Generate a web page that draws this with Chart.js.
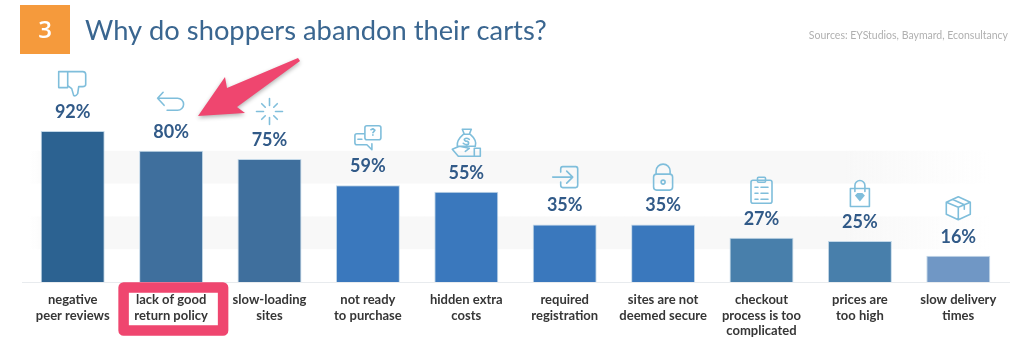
<!DOCTYPE html>
<html><head><meta charset="utf-8">
<script src="https://cdn.jsdelivr.net/npm/chart.js@4"></script>
<style>
html,body{margin:0;padding:0;background:#fff;width:1024px;height:358px;overflow:hidden;font-family:Lato,sans-serif}
#wrap{position:relative;width:1024px;height:358px}
canvas{position:absolute;left:0;top:0}
</style></head><body>
<div id="wrap"><canvas id="c" width="1024" height="358"></canvas></div>
<script>
const categories=[["negative","peer reviews"],["lack of good","return policy"],["slow-loading","sites"],["not ready","to purchase"],["hidden extra","costs"],["required","registration"],["sites are not","deemed secure"],["checkout","process is too","complicated"],["prices are","too high"],["slow delivery","times"]];
const values=[92,80,75,59,55,35,35,27,25,16];
const bands=[[60,80],[20,40]];
const topColors=["#2c6291","#3f6f9d","#3f6f9d","#3a78bd","#3a78bd","#3a78bd","#3a78bd","#487fab","#487fab","#7097c5"];
const bottomColors=["#234f7c","#345c8b","#345c8b","#29629a","#29629a","#2e6aa8","#2e6aa8","#3a6b97","#3a6b97","#6a8fbc"];
const iconNames=["thumb","back","spin","chat","money","login","lock","list","bag","box"];
const iconColor="#7fbedb";

const icons={
 thumb(g){g.rect(-14,-12,9,16);g.moveTo(-5,-12);g.lineTo(10,-12);g.quadraticCurveTo(13,-12,13,-9);g.lineTo(13,1);g.quadraticCurveTo(13,3,10,3);g.lineTo(6,3);g.lineTo(5,10);g.quadraticCurveTo(3,13,1,12);g.lineTo(-1,5);g.lineTo(-5,2);},
 back(g){g.moveTo(-8,-11);g.lineTo(-13.5,-5);g.lineTo(-7,2);g.moveTo(-13.5,-5);g.lineTo(6,-5);g.arc(6.5,1,6,-Math.PI/2,Math.PI/2);g.lineTo(-4,7);},
 spin(g){for(let i=0;i<8;i++){const a=i*Math.PI/4,r0=i%2?6:6,r1=i%2?11:13;g.moveTo(r0*Math.cos(a),r0*Math.sin(a));g.lineTo(r1*Math.cos(a),r1*Math.sin(a));}},
 chat(g){g.moveTo(-3,-4);g.lineTo(-11,-4);g.quadraticCurveTo(-13,-4,-13,-2);g.lineTo(-13,5);g.quadraticCurveTo(-13,7,-11,7);g.lineTo(-1,7);g.lineTo(4,12);g.lineTo(4,6);
  g.moveTo(-3,-10);g.quadraticCurveTo(-3,-12,-1,-12);g.lineTo(11,-12);g.quadraticCurveTo(13,-12,13,-10);g.lineTo(13,0);g.quadraticCurveTo(13,2,11,2);g.lineTo(-1,2);g.quadraticCurveTo(-3,2,-3,0);g.closePath();
  g.moveTo(3,-8);g.lineTo(5,-9);g.lineTo(7,-7.5);g.lineTo(5,-5);g.moveTo(5,-3);g.lineTo(5,-2.5);g.moveTo(-10,1.5);g.lineTo(-6,1.5);},
 money(g){g.moveTo(-4,-15);g.lineTo(5,-15);g.lineTo(3,-10);g.lineTo(-2,-10);g.closePath();g.moveTo(-3,-10);g.quadraticCurveTo(-10,-4,-9,2);g.lineTo(9,2);g.quadraticCurveTo(11,-4,4,-10);
  g.moveTo(-14,5);g.lineTo(-7,2);g.lineTo(3,4);g.lineTo(-1,7);g.moveTo(-14,5);g.lineTo(-8,12);g.lineTo(8,12);g.moveTo(8,4);g.lineTo(14,4);g.lineTo(14,12);g.lineTo(8,12);g.closePath();
  g.moveTo(3,-5);g.quadraticCurveTo(0,-7,-2,-5);g.quadraticCurveTo(-2,-3,1,-3);g.quadraticCurveTo(3,-2,2,0);g.quadraticCurveTo(0,1,-3,-1);},
 login(g){g.moveTo(-4,-5);g.lineTo(-4,-8);g.quadraticCurveTo(-4,-10.5,-2,-10.5);g.lineTo(11,-10.5);g.quadraticCurveTo(13,-10.5,13,-8);g.lineTo(13,8);g.quadraticCurveTo(13,10.5,11,10.5);g.lineTo(-2,10.5);g.quadraticCurveTo(-4,10.5,-4,8);g.lineTo(-4,5);
  g.moveTo(-12,0);g.lineTo(7,0);g.moveTo(2,-6);g.lineTo(8,0);g.lineTo(2,6);},
 lock(g){g.roundRect(-9.5,-3,19,16,3);g.moveTo(-7,-3);g.lineTo(-7,-6);g.arc(0,-6,7,Math.PI,0);g.lineTo(7,-3);g.moveTo(2,5);g.arc(0,5,2,0,Math.PI*2);},
 list(g){g.roundRect(-10.5,-10,21,23,2);g.roundRect(-4,-13,8,5,1);for(const y of [-3,3,9]){g.moveTo(-6.5,y);g.lineTo(-3.5,y);g.moveTo(-0.5,y);g.lineTo(6.5,y);}},
 bag(g){g.rect(-9.5,-5,19,18);g.moveTo(-5,-2);g.lineTo(-5,-8);g.arc(0,-8,5,Math.PI,0);g.lineTo(5,-2);
  g.stroke();g.beginPath();g.moveTo(-5,2);g.lineTo(-2.5,-0.5);g.lineTo(2.5,-0.5);g.lineTo(5,2);g.lineTo(0,8);g.closePath();g.fillStyle=iconColor;g.fill();g.beginPath();},
 box(g){g.moveTo(0,-11.5);g.lineTo(12,-6);g.lineTo(12,6);g.lineTo(0,11.5);g.lineTo(-12,6);g.lineTo(-12,-6);g.closePath();g.moveTo(-12,-6);g.lineTo(0,-1);g.lineTo(12,-6);g.moveTo(0,-1);g.lineTo(0,11.5);g.moveTo(-6,-9);g.lineTo(6,-3.5);g.lineTo(6,1);}
};

const bandPlugin={id:'bands',beforeDatasetsDraw(ch){
 const g=ch.ctx,y=ch.scales.y;g.save();
 const gr=g.createLinearGradient(28,0,990,0);
 gr.addColorStop(0,'rgba(248,248,248,0)');gr.addColorStop(.03,'#f8f8f8');gr.addColorStop(.85,'#f8f8f8');gr.addColorStop(1,'rgba(248,248,248,0)');
 g.fillStyle=gr;
 bands.forEach(b=>g.fillRect(28,y.getPixelForValue(b[1]),962,y.getPixelForValue(b[0])-y.getPixelForValue(b[1])));
 g.strokeStyle='#e8ebee';g.lineWidth=1;g.beginPath();g.moveTo(22,y.getPixelForValue(0)+.5);g.lineTo(1010,y.getPixelForValue(0)+.5);g.stroke();
 g.restore();
}};
const labelPlugin={id:'labels',afterDatasetsDraw(ch){
 const g=ch.ctx,meta=ch.getDatasetMeta(0);g.save();
 g.textAlign='center';g.textBaseline='middle';
 meta.data.forEach((b,i)=>{
  g.font='700 18px Lato';g.fillStyle='#315a88';
  g.fillText(values[i]+'%',b.x,b.y-19);
  g.save();g.translate(b.x,b.y-47.5);g.strokeStyle=iconColor;g.lineWidth=1.6;g.lineJoin='round';g.lineCap='round';
  g.beginPath();icons[iconNames[i]](g);g.stroke();g.restore();
 });
 g.restore();
}};
const frame={id:'frame',afterDraw(ch){
 const g=ch.ctx;g.save();
 g.fillStyle='#f59a3c';g.fillRect(20,5,50,49);
 g.fillStyle='#fff';g.font='600 24px "Open Sans"';g.textAlign='center';g.textBaseline='middle';g.fillText('3',45,31);
 g.fillStyle='#3a6690';g.font='400 27.3px Lato';g.textAlign='left';g.fillText('Why do shoppers abandon their carts?',85,31);
 g.fillStyle='#b0b0b0';g.font='400 10.5px Lato';g.textAlign='right';g.fillText('Sources: EYStudios, Baymard, Econsultancy',1008,36);
 const x=ch.getDatasetMeta(0).data[1].x;
 g.strokeStyle='#ef466f';g.lineWidth=10.5;g.lineJoin='round';g.beginPath();g.rect(x-47.5,287.5,99.5,43);g.stroke();
 g.shadowColor='rgba(0,0,0,.3)';g.shadowBlur=4;g.shadowOffsetY=2;
 g.fillStyle='#ef466f';g.beginPath();g.moveTo(298,58);g.lineTo(227,88);g.lineTo(225,77);g.lineTo(198,116);g.lineTo(245,113);g.lineTo(237,107);g.lineTo(300,61);g.closePath();g.fill();
 g.restore();
}};
new Chart(document.getElementById('c'),{
 type:'bar',
 data:{labels:categories,datasets:[{data:values,
  backgroundColor(c){const b=c.chart.chartArea;if(!b||!c.element)return topColors[c.dataIndex];
   const p=c.element.getProps(['y','base'],true);if(!isFinite(p.y))return topColors[c.dataIndex];
   const gr=c.chart.ctx.createLinearGradient(0,p.y,0,p.base);gr.addColorStop(0,topColors[c.dataIndex]);gr.addColorStop(1,bottomColors[c.dataIndex]);return gr;},
  borderColor:'#c3d8e8',borderWidth:1,categoryPercentage:1,barPercentage:.65}]},
 options:{responsive:false,animation:false,
  layout:{padding:{left:23.5,right:16.5,top:118,bottom:0}},
  plugins:{legend:{display:false},tooltip:{enabled:false}},
  scales:{
   x:{afterFit(s){s.height=76;},grid:{display:false,drawTicks:false},border:{display:false},ticks:{color:'#363636',font:{family:'Lato',weight:'700',size:13,lineHeight:1.2},maxRotation:0,autoSkip:false,padding:10}},
   y:{min:0,max:100,display:false}
  }},
 plugins:[bandPlugin,labelPlugin,frame]
});
</script></body></html>
